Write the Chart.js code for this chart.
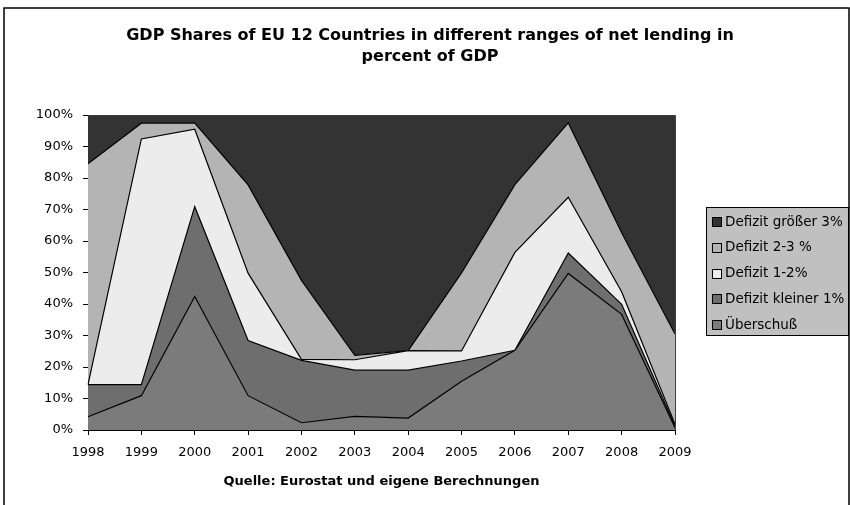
<!DOCTYPE html>
<html>
<head>
<meta charset="utf-8">
<script src="https://cdn.jsdelivr.net/npm/chart.js@4/dist/chart.umd.min.js"></script>
<style>
  html, body { margin: 0; padding: 0; background: #ffffff; }
  canvas { display: block; }
</style>
</head>
<body>
<canvas id="c" width="850" height="505"></canvas>
<script>
// ---- data (shares of GDP, percent) ----
const years = ['1998','1999','2000','2001','2002','2003','2004','2005','2006','2007','2008','2009'];
const ueberschuss      = [4.2, 10.9, 42.4, 10.9,  2.3,  4.3,  3.8, 15.5, 25.3, 49.7, 36.7,  0.7];
const defizitKleiner1  = [10.2, 3.5, 28.5, 17.5, 19.8, 14.7, 15.2,  6.4,  0.0,  6.5,  3.2,  0.6];
const defizit1bis2     = [0.0, 78.0, 24.6, 21.4,  0.3,  3.3,  6.2,  3.2, 31.1, 17.7,  4.0,  0.5];
const defizit2bis3     = [70.1, 5.0,  1.9, 28.0, 25.1,  1.4,  0.0, 24.8, 21.5, 23.6, 18.7, 28.7];
const defizitGroesser3 = [15.5, 2.6,  2.6, 22.2, 52.5, 76.3, 74.8, 50.1, 22.1,  2.5, 37.4, 69.5];
const yTicks = [0,10,20,30,40,50,60,70,80,90,100];

const seriesNames = ['Überschuß','Defizit kleiner 1%','Defizit 1-2%','Defizit 2-3 %','Defizit größer 3%'];
const seriesData = [ueberschuss, defizitKleiner1, defizit1bis2, defizit2bis3, defizitGroesser3];
const seriesColors = ['#7b7b7b', '#6e6e6e', '#ececec', '#b4b4b4', '#333333'];

const FONT = 'DejaVu Sans';

const datasets = seriesData.map((d, i) => ({
  label: seriesNames[i],
  data: d,
  backgroundColor: seriesColors[i],
  borderColor: '#000000',
  borderWidth: 1.2,
  pointRadius: 0,
  pointHoverRadius: 0,
  tension: 0,
  fill: i === 0 ? 'origin' : '-1'
}));

const framePlugin = {
  id: 'frame',
  afterDraw(chart) {
    const ctx = chart.ctx;
    const a = chart.chartArea;
    ctx.save();
    // plot area border (top / right)
    ctx.strokeStyle = '#404040';
    ctx.lineWidth = 1;
    ctx.beginPath();
    ctx.moveTo(Math.round(a.left) + 0.5, Math.round(a.top) + 0.5);
    ctx.lineTo(Math.round(a.right) + 0.5, Math.round(a.top) + 0.5);
    ctx.lineTo(Math.round(a.right) + 0.5, Math.round(a.bottom) + 0.5);
    ctx.stroke();
    // outer chart border
    ctx.strokeStyle = '#000000';
    ctx.lineWidth = 1.5;
    ctx.strokeRect(4, 8, 845, 520);
    // legend
    const lx = 706, ly = 207, lw = 143, lh = 129;
    ctx.fillStyle = '#c0c0c0';
    ctx.fillRect(lx, ly, lw, lh);
    ctx.strokeStyle = '#000000';
    ctx.lineWidth = 1;
    ctx.strokeRect(lx + 0.5, ly + 0.5, lw - 1, lh - 1);
    ctx.font = '13.5px "' + FONT + '"';
    ctx.textBaseline = 'middle';
    ctx.textAlign = 'left';
    for (let k = 0; k < 5; k++) {
      const i = 4 - k;
      const cy = 221.5 + k * 25.8;
      ctx.fillStyle = seriesColors[i];
      ctx.fillRect(712.5, Math.round(cy - 4.5) + 0.5, 9, 9);
      ctx.strokeStyle = '#000000';
      ctx.strokeRect(712.5, Math.round(cy - 4.5) + 0.5, 9, 9);
      ctx.fillStyle = '#000000';
      ctx.fillText(seriesNames[i], 725, cy + 0.5);
    }
    ctx.restore();
  }
};

new Chart(document.getElementById('c'), {
  type: 'line',
  data: { labels: years, datasets: datasets },
  options: {
    responsive: false,
    animation: false,
    devicePixelRatio: 1,
    layout: { padding: { left: 10, right: 0, top: 0, bottom: 0 } },
    plugins: {
      legend: { display: false },
      tooltip: { enabled: false },
      title: {
        display: true,
        text: ['GDP Shares of EU 12 Countries in different ranges of net lending in', 'percent of GDP'],
        color: '#000000',
        font: { family: FONT, size: 16, weight: 'bold', lineHeight: '21px' },
        padding: { top: 25, bottom: 48 }
      },
      filler: { propagate: false }
    },
    scales: {
      x: {
        type: 'category',
        offset: false,
        grid: { display: true, drawOnChartArea: false, drawTicks: true, tickLength: 5, color: '#000000' },
        border: { display: true, color: '#000000', width: 1 },
        ticks: { color: '#000000', font: { family: FONT, size: 13 }, padding: 10, maxRotation: 0, autoSkip: false },
        title: {
          display: true,
          text: 'Quelle: Eurostat und eigene Berechnungen',
          color: '#000000',
          font: { family: FONT, size: 13, weight: 'bold' },
          padding: { top: 4, bottom: 15.7 }
        },
        afterFit(scale) { scale.height = 75; }
      },
      y: {
        type: 'linear',
        stacked: true,
        min: 0,
        max: 100,
        afterBuildTicks(scale) { scale.ticks = yTicks.map(v => ({ value: v })); },
        grid: { display: true, drawOnChartArea: false, drawTicks: true, tickLength: 5, color: '#000000' },
        border: { display: true, color: '#000000', width: 1 },
        ticks: { color: '#000000', font: { family: FONT, size: 13 }, padding: 10, callback: v => v + '%' },
        afterFit(scale) { scale.width = 78; }
      },
      yRight: {
        type: 'linear',
        position: 'right',
        display: true,
        grid: { display: false },
        border: { display: false },
        ticks: { display: false },
        afterFit(scale) { scale.width = 175; }
      }
    }
  },
  plugins: [framePlugin]
});
</script>
</body>
</html>
